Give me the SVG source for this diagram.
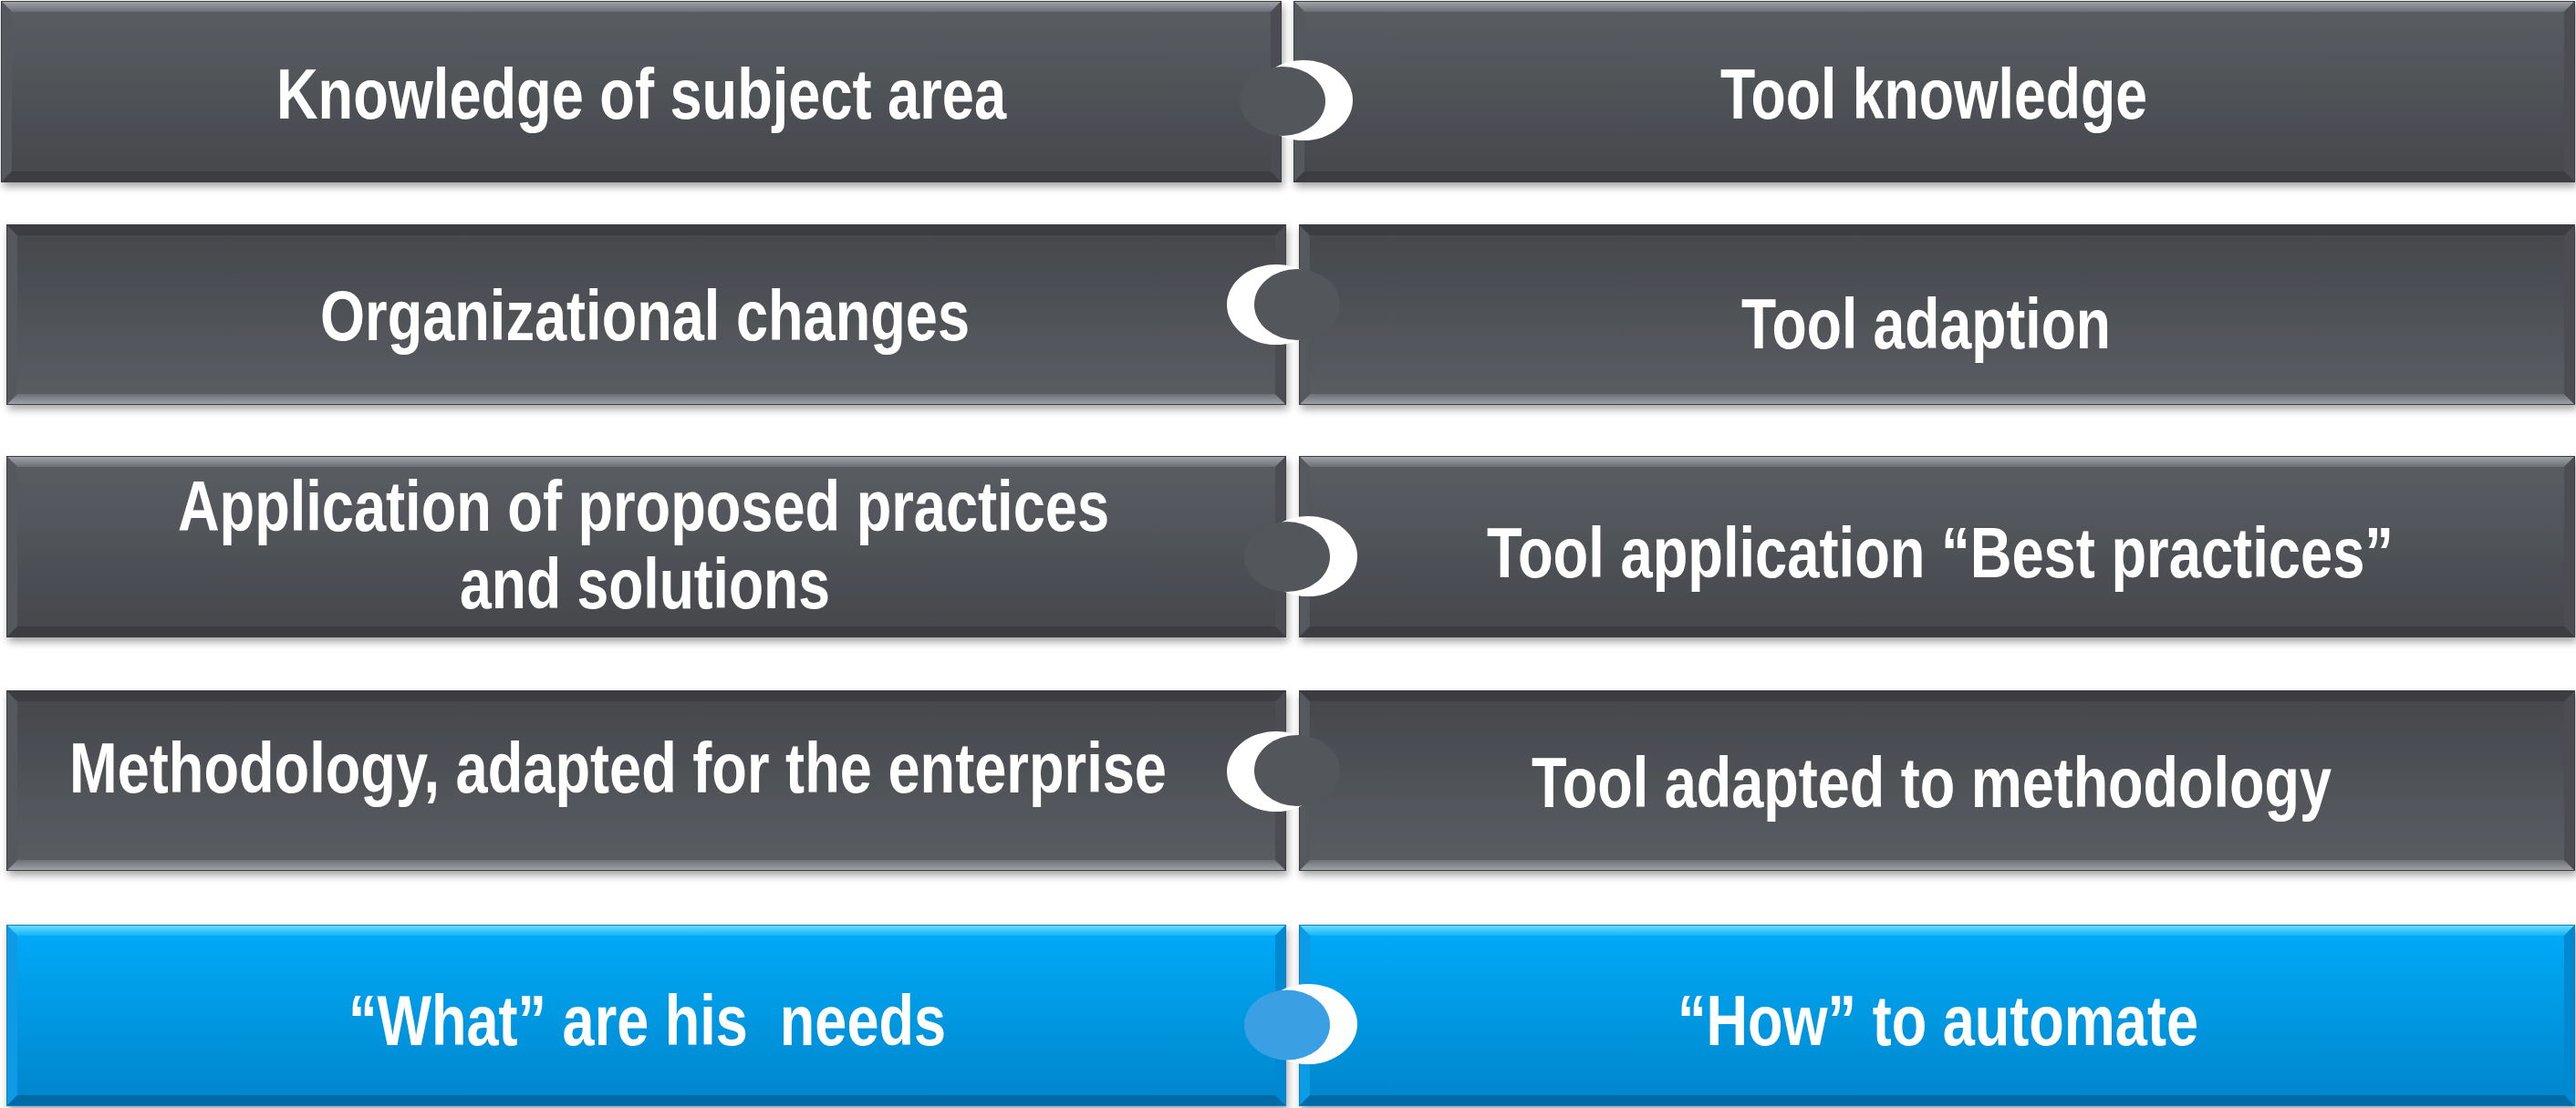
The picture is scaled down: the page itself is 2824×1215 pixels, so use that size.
<svg xmlns="http://www.w3.org/2000/svg" width="2824" height="1215" viewBox="0 0 2824 1215">
<style>
.t{font-family:"Liberation Sans Narrow","Liberation Sans",Arial,sans-serif;font-weight:bold;font-size:77px;fill:#ffffff}
.box{filter:url(#sh)}
.hole{fill:#ffffff}
.tabD{fill:#53565b}
.tabB{fill:#3aa0e3}
</style>
<defs>
<filter id="sh" x="-2%" y="-10%" width="104%" height="125%">
<feDropShadow dx="2" dy="5" stdDeviation="4" flood-color="#000" flood-opacity="0.35"/>
</filter>
<linearGradient id="gD" x1="0" y1="0" x2="0" y2="1">
<stop offset="0" stop-color="#5b5e63"/><stop offset="1" stop-color="#44474b"/>
</linearGradient>
<linearGradient id="gDt" x1="0" y1="0" x2="0" y2="1">
<stop offset="0" stop-color="#a3a6ab"/><stop offset="1" stop-color="#6c6f74"/>
</linearGradient>
<linearGradient id="gB" x1="0" y1="0" x2="0" y2="1">
<stop offset="0" stop-color="#05abf9"/><stop offset="1" stop-color="#0585cb"/>
</linearGradient>
<linearGradient id="gBt" x1="0" y1="0" x2="0" y2="1">
<stop offset="0" stop-color="#6ee0ff"/><stop offset="1" stop-color="#12b4f8"/>
</linearGradient>
<symbol id="bd" viewBox="0 0 1400 199" preserveAspectRatio="none">
<rect width="1400" height="199" fill="url(#gD)"/>
<polygon points="0,0 1400,0 1388,12 12,12" fill="url(#gDt)"/>
<polygon points="0,0 12,12 12,187 0,199" fill="#55585d"/>
<polygon points="1400,0 1388,12 1388,187 1400,199" fill="#4b4e52"/>
<polygon points="0,199 12,187 1388,187 1400,199" fill="#3b3d41"/>
<rect x="0.5" y="0.5" width="1399" height="198" fill="none" stroke="#3c3e42" stroke-width="1"/>
</symbol>
<symbol id="bf" viewBox="0 0 1400 199" preserveAspectRatio="none">
<g transform="translate(0,199) scale(1,-1)">
<rect width="1400" height="199" fill="url(#gD)"/>
<polygon points="0,0 1400,0 1388,12 12,12" fill="url(#gDt)"/>
<polygon points="0,0 12,12 12,187 0,199" fill="#55585d"/>
<polygon points="1400,0 1388,12 1388,187 1400,199" fill="#4b4e52"/>
<polygon points="0,199 12,187 1388,187 1400,199" fill="#3b3d41"/>
<rect x="0.5" y="0.5" width="1399" height="198" fill="none" stroke="#3c3e42" stroke-width="1"/>
</g>
</symbol>
<symbol id="bb" viewBox="0 0 1400 199" preserveAspectRatio="none">
<rect width="1400" height="199" fill="url(#gB)"/>
<polygon points="0,0 1400,0 1388,12 12,12" fill="url(#gBt)"/>
<polygon points="0,0 12,12 12,187 0,199" fill="#0a9be6"/>
<polygon points="1400,0 1388,12 1388,187 1400,199" fill="#0688d0"/>
<polygon points="0,199 12,187 1388,187 1400,199" fill="#036aa6"/>
<rect x="0.5" y="0.5" width="1399" height="198" fill="none" stroke="#0a7fc0" stroke-width="1"/>
</symbol>
</defs>
<rect width="2824" height="1215" fill="#ffffff"/>

<g id="n-knowledge-subject"><use href="#bd" class="box" x="1" y="1" width="1404" height="199"/></g>
<g id="n-tool-knowledge"><use href="#bd" class="box" x="1418" y="1" width="1405" height="199"/></g>
<g id="n-org-changes"><use href="#bf" class="box" x="7" y="246" width="1403" height="198"/></g>
<g id="n-tool-adaption"><use href="#bf" class="box" x="1424" y="246" width="1399" height="198"/></g>
<g id="n-application"><use href="#bd" class="box" x="7" y="500" width="1403" height="199"/></g>
<g id="n-tool-application"><use href="#bd" class="box" x="1424" y="500" width="1399" height="199"/></g>
<g id="n-methodology"><use href="#bf" class="box" x="7" y="757" width="1403" height="198"/></g>
<g id="n-tool-adapted"><use href="#bf" class="box" x="1424" y="757" width="1399" height="198"/></g>
<g id="n-what"><use href="#bb" class="box" x="7" y="1014" width="1403" height="199"/></g>
<g id="n-how"><use href="#bb" class="box" x="1424" y="1014" width="1399" height="199"/></g>

<g id="connectors">
<ellipse class="hole" cx="1429" cy="110" rx="54" ry="44"/>
<ellipse class="tabD" cx="1406" cy="111" rx="47" ry="38"/>
<ellipse class="hole" cx="1399" cy="334" rx="54" ry="44"/>
<ellipse class="tabD" cx="1422" cy="334" rx="47" ry="39"/>
<ellipse class="hole" cx="1434" cy="610" rx="54" ry="44"/>
<ellipse class="tabD" cx="1411" cy="610.5" rx="47" ry="38.5"/>
<ellipse class="hole" cx="1399" cy="846" rx="54" ry="44"/>
<ellipse class="tabD" cx="1422" cy="845" rx="47" ry="39"/>
<ellipse class="hole" cx="1434" cy="1123" rx="54" ry="44"/>
<ellipse class="tabB" cx="1411" cy="1124" rx="47" ry="38.5"/>
</g>

<g id="labels">
<text class="t" x="303" y="130" textLength="800" lengthAdjust="spacingAndGlyphs">Knowledge of subject area</text>
<text class="t" x="1886" y="130" textLength="468" lengthAdjust="spacingAndGlyphs">Tool knowledge</text>
<text class="t" x="351" y="373" textLength="712" lengthAdjust="spacingAndGlyphs">Organizational changes</text>
<text class="t" x="1909" y="382" textLength="405" lengthAdjust="spacingAndGlyphs">Tool adaption</text>
<text class="t" x="195" y="582" textLength="1021" lengthAdjust="spacingAndGlyphs">Application of proposed practices</text>
<text class="t" x="504" y="667" textLength="406" lengthAdjust="spacingAndGlyphs">and solutions</text>
<text class="t" x="1630" y="633" textLength="994" lengthAdjust="spacingAndGlyphs">Tool application “Best practices”</text>
<text class="t" x="76" y="869" textLength="1203" lengthAdjust="spacingAndGlyphs">Methodology, adapted for the enterprise</text>
<text class="t" x="1679" y="885" textLength="877" lengthAdjust="spacingAndGlyphs">Tool adapted to methodology</text>
<text class="t" x="382" y="1146" textLength="655" lengthAdjust="spacingAndGlyphs" xml:space="preserve">“What” are his  needs</text>
<text class="t" x="1839" y="1146" textLength="571" lengthAdjust="spacingAndGlyphs">“How” to automate</text>
</g>
</svg>
